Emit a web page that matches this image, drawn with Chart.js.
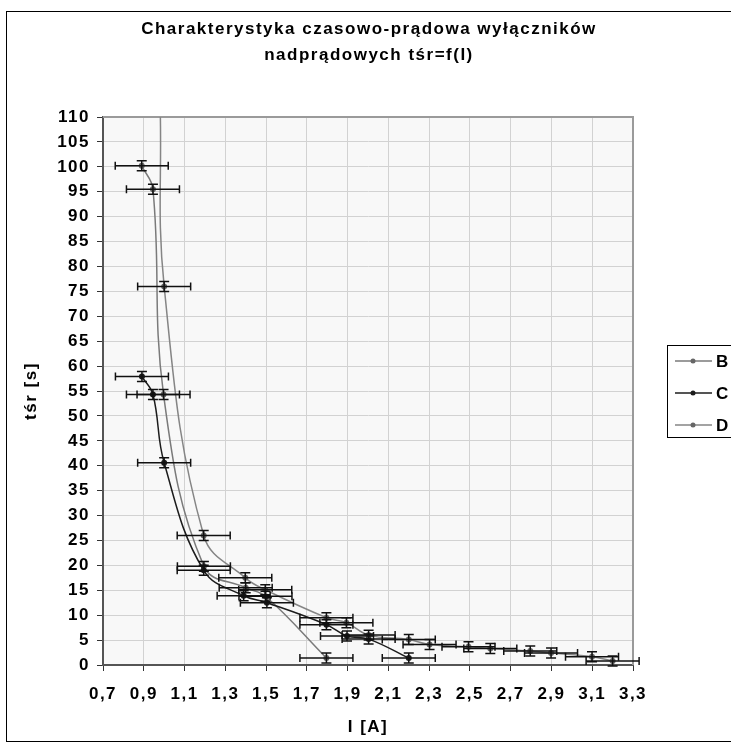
<!DOCTYPE html>
<html>
<head>
<meta charset="utf-8">
<script src="https://cdn.jsdelivr.net/npm/chart.js@4.4.1/dist/chart.umd.min.js"></script>
<style>
  html, body { margin: 0; padding: 0; background: #fff; overflow: hidden; }
  canvas { display: block; }
</style>
</head>
<body>
<canvas id="chart" width="731" height="744"></canvas>
<script>
// Axis ticks
const xTicks = [0.7, 0.9, 1.1, 1.3, 1.5, 1.7, 1.9, 2.1, 2.3, 2.5, 2.7, 2.9, 3.1, 3.3];
const yTicks = [0, 5, 10, 15, 20, 25, 30, 35, 40, 45, 50, 55, 60, 65, 70, 75, 80, 85, 90, 95, 100, 105, 110];

const seriesNames = ['B', 'C', 'D'];

// Breaker B: current [A] and mean trip time [s]
const bCurrent = [0.89, 0.945, 0.997, 1.195, 1.40, 1.497, 1.796];
const bTime = [100.2, 95.5, 54.3, 19.8, 15.5, 13.8, 1.4];

// Breaker C
const cCurrent = [0.891, 0.945, 1.0, 1.194, 1.39, 1.504, 1.796, 1.897, 2.003, 2.2];
const cTime = [57.9, 54.3, 40.6, 19.0, 13.9, 12.5, 8.1, 5.8, 5.2, 1.4];

// Breaker D (first point lies just above the axis range)
const dCurrent = [0.981, 1.0, 1.194, 1.398, 1.496, 1.796, 1.894, 2.003, 2.2, 2.302, 2.493, 2.6, 2.796, 2.898, 3.099, 3.2];
const dTime = [111, 76.0, 26.0, 17.5, 15.1, 9.5, 8.5, 6.0, 5.1, 4.1, 3.65, 3.3, 2.8, 2.4, 1.65, 0.8];

// Measurement uncertainty (+/-)
const currentErr = 0.13;
const timeErr = 1;

const lineColors = ['#7a7a7a', '#1c1c1c', '#858585'];

const toPoints = (xs, ys) => xs.map((x, i) => ({ x: x, y: ys[i] }));

Chart.defaults.font.family = "'Liberation Sans', Arial, sans-serif";
Chart.defaults.color = '#000';

// plot background + outer chart frame
const frame = {
    id: 'frame',
    beforeDraw(chart) {
        const { ctx, chartArea: a } = chart;
        ctx.letterSpacing = '1.5px'; // wide Excel-like text
        ctx.save();
        ctx.fillStyle = '#f8f8f8';
        ctx.fillRect(a.left, a.top, a.right - a.left, a.bottom - a.top);
        ctx.restore();
    },
    beforeDatasetsDraw(chart) {
        const { ctx, chartArea: a } = chart;
        ctx.save();
        ctx.strokeStyle = '#9a9a9a';
        ctx.lineWidth = 2;
        ctx.beginPath();
        ctx.moveTo(a.left, a.top);
        ctx.lineTo(a.right, a.top);
        ctx.lineTo(a.right, a.bottom);
        ctx.stroke();
        ctx.restore();
    },
    afterDraw(chart) {
        const { ctx } = chart;
        ctx.save();
        ctx.strokeStyle = '#000';
        ctx.lineWidth = 1;
        ctx.strokeRect(6.5, 11.5, 800, 730);
        ctx.restore();
    }
};

// horizontal and vertical error bars
const errorBars = {
    id: 'errorBars',
    afterDatasetsDraw(chart) {
        const { ctx, scales: { x, y } } = chart;
        ctx.save();
        ctx.strokeStyle = '#111';
        ctx.lineWidth = 1.5;
        chart.data.datasets.forEach(ds => {
            ds.data.forEach(p => {
                if (p.y > y.max) return;
                const px = x.getPixelForValue(p.x);
                const py = y.getPixelForValue(p.y);
                const x0 = x.getPixelForValue(p.x - currentErr);
                const x1 = x.getPixelForValue(p.x + currentErr);
                const y0 = y.getPixelForValue(p.y - timeErr);
                const y1 = y.getPixelForValue(p.y + timeErr);
                ctx.beginPath();
                ctx.moveTo(x0, py); ctx.lineTo(x1, py);
                ctx.moveTo(x0, py - 4); ctx.lineTo(x0, py + 4);
                ctx.moveTo(x1, py - 4); ctx.lineTo(x1, py + 4);
                ctx.moveTo(px, y0); ctx.lineTo(px, y1);
                ctx.moveTo(px - 5, y0); ctx.lineTo(px + 5, y0);
                ctx.moveTo(px - 5, y1); ctx.lineTo(px + 5, y1);
                ctx.stroke();
            });
        });
        ctx.restore();
    }
};

// boxed legend on the right, partly cut by the page edge
const sideLegend = {
    id: 'sideLegend',
    afterDraw(chart) {
        const { ctx } = chart;
        ctx.save();
        ctx.strokeStyle = '#000';
        ctx.lineWidth = 1;
        ctx.strokeRect(667.5, 345.5, 100, 92);
        ctx.font = "bold 17px 'Liberation Sans', Arial, sans-serif";
        ctx.textBaseline = 'middle';
        ctx.textAlign = 'left';
        seriesNames.forEach((name, i) => {
            const yy = 361 + i * 32;
            ctx.strokeStyle = lineColors[i];
            ctx.lineWidth = 1.5;
            ctx.beginPath();
            ctx.moveTo(675, yy);
            ctx.lineTo(712, yy);
            ctx.stroke();
            ctx.fillStyle = i === 1 ? '#1c1c1c' : '#666';
            ctx.beginPath();
            ctx.arc(693, yy, 2.5, 0, Math.PI * 2);
            ctx.fill();
            ctx.fillStyle = '#000';
            ctx.fillText(name, 716, yy + 1);
        });
        ctx.restore();
    }
};

const makeDataset = (label, xs, ys, i) => ({
    label: label,
    data: toPoints(xs, ys),
    showLine: true,
    tension: 0.4,
    borderColor: lineColors[i],
    borderWidth: 1.5,
    backgroundColor: i === 1 ? '#1c1c1c' : '#666',
    pointBorderWidth: 0,
    pointRadius: ctx => (ctx.raw && ctx.raw.y > 110 ? 0 : 3),
    order: 3 - i
});

const commaLabel = v => Number(v).toFixed(1).replace('.', ',');

new Chart(document.getElementById('chart'), {
    type: 'scatter',
    data: {
        datasets: [
            makeDataset(seriesNames[0], bCurrent, bTime, 0),
            makeDataset(seriesNames[1], cCurrent, cTime, 1),
            makeDataset(seriesNames[2], dCurrent, dTime, 2)
        ]
    },
    options: {
        responsive: false,
        animation: false,
        devicePixelRatio: 1,
        layout: { padding: { left: 7, right: 0, top: 0, bottom: 0 } },
        plugins: {
            legend: { display: false },
            tooltip: { enabled: false },
            title: {
                display: true,
                text: ['Charakterystyka czasowo-prądowa wyłączników', 'nadprądowych tśr=f(I)'],
                font: { size: 17, weight: 'bold', lineHeight: 1.53 },
                color: '#000',
                padding: { top: 16, bottom: 49 }
            }
        },
        scales: {
            x: {
                type: 'linear',
                position: 'bottom',
                min: 0.7,
                max: 3.3,
                afterBuildTicks: s => { s.ticks = xTicks.map(v => ({ value: v })); },
                afterFit: s => { s.height = 79; },
                ticks: {
                    callback: commaLabel,
                    font: { size: 17, weight: 'bold' },
                    color: '#000',
                    padding: 13,
                    maxRotation: 0,
                    autoSkip: false
                },
                grid: { color: '#d2d2d2', tickColor: '#333', tickLength: 6 },
                border: { color: '#555', width: 2 },
                title: {
                    display: true,
                    text: 'I [A]',
                    font: { size: 17, weight: 'bold' },
                    color: '#000',
                    padding: { top: 0, bottom: 6 }
                }
            },
            y: {
                type: 'linear',
                position: 'left',
                min: 0,
                max: 110,
                afterBuildTicks: s => { s.ticks = yTicks.map(v => ({ value: v })); },
                afterFit: s => { s.width = 96; },
                ticks: {
                    font: { size: 17, weight: 'bold' },
                    color: '#000',
                    padding: 7,
                    autoSkip: false
                },
                grid: { color: '#d2d2d2', tickColor: '#333', tickLength: 6 },
                border: { color: '#555', width: 2 },
                title: {
                    display: true,
                    text: 'tśr [s]',
                    font: { size: 17, weight: 'bold' },
                    color: '#000',
                    padding: { top: 14, bottom: 0 }
                }
            },
            legendSpace: {
                type: 'linear',
                position: 'right',
                display: true,
                afterFit: s => { s.width = 98; },
                ticks: { display: false },
                grid: { display: false, drawTicks: false },
                border: { display: false }
            }
        }
    },
    plugins: [frame, errorBars, sideLegend]
});
</script>
</body>
</html>
